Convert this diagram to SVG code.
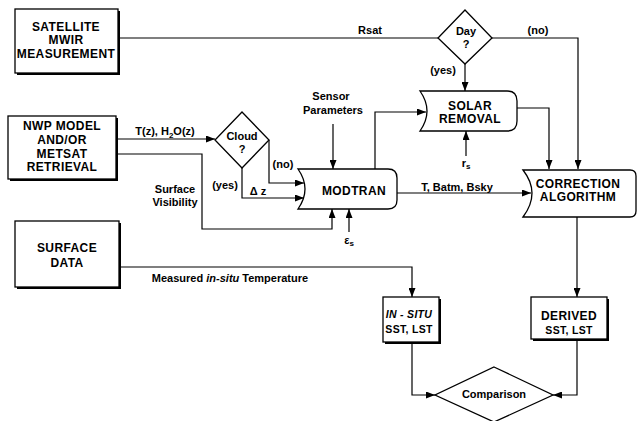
<svg xmlns="http://www.w3.org/2000/svg" width="637" height="421" viewBox="0 0 637 421">
<style>
.bg{fill:#fff}
.box{fill:#fff;stroke:#000;stroke-width:1.3}
.sh{fill:#000}
.c{fill:none;stroke:#000;stroke-width:1.2}
text{font-family:"Liberation Sans",Arial,Helvetica,sans-serif;font-weight:bold;fill:#000}
.t{font-size:12px;text-anchor:middle;letter-spacing:0.4px}
.l{font-size:11px;text-anchor:middle}
.s{font-size:10.5px;text-anchor:middle;letter-spacing:0.3px}
</style>
<defs>
<marker id="ah" markerWidth="9" markerHeight="7" refX="9" refY="3.5" orient="auto" markerUnits="userSpaceOnUse">
<path d="M0,0 L9,3.5 L0,7 Z" fill="#000"/>
</marker>
</defs>
<rect class="bg" x="0" y="0" width="637" height="421"/>

<g id="connectors">
<path class="c" d="M118,38 H438"/>
<path class="c" d="M492,38 H578 V169" marker-end="url(#ah)"/>
<path class="c" d="M465,64 V91" marker-end="url(#ah)"/>
<path class="c" d="M333,124 V169" marker-end="url(#ah)"/>
<path class="c" d="M375,169 V112 H426" marker-end="url(#ah)"/>
<path class="c" d="M517,108 H549 V169" marker-end="url(#ah)"/>
<path class="c" d="M466,156 V131" marker-end="url(#ah)"/>
<path class="c" d="M117,139 H215" marker-end="url(#ah)"/>
<path class="c" d="M269,140 V183 H304" marker-end="url(#ah)"/>
<path class="c" d="M242,168 V198 H304" marker-end="url(#ah)"/>
<path class="c" d="M117,154 H202 V229 H332 V209" marker-end="url(#ah)"/>
<path class="c" d="M349,232 V209" marker-end="url(#ah)"/>
<path class="c" d="M397,193 H531" marker-end="url(#ah)"/>
<path class="c" d="M577,217 V297" marker-end="url(#ah)"/>
<path class="c" d="M119,267 H412 V297" marker-end="url(#ah)"/>
<path class="c" d="M412,342 V395 H435" marker-end="url(#ah)"/>
<path class="c" d="M577,339 V395 H553" marker-end="url(#ah)"/>
</g>

<g id="labels">
<text class="l" x="370" y="34">Rsat</text>
<text class="l" x="538" y="34">(no)</text>
<text class="l" x="443" y="74">(yes)</text>
<text class="l" x="331" y="100">Sensor</text>
<text class="l" x="333" y="114">Parameters</text>
<text class="l" x="165" y="135">T(z), H<tspan font-size="8" dy="3">2</tspan><tspan dy="-3">O(z)</tspan></text>
<text class="l" x="283" y="168">(no)</text>
<text class="l" x="225" y="189">(yes)</text>
<text class="l" x="258" y="195">Δ z</text>
<text class="l" x="175" y="193">Surface</text>
<text class="l" x="175" y="206">Visibility</text>
<text class="l" x="466" y="167">r<tspan font-size="8" dy="2">s</tspan></text>
<text class="l" x="349" y="244">ε<tspan font-size="8" dy="2">s</tspan></text>
<text class="l" x="457" y="191">T, Batm, Bsky</text>
<text class="l" x="230" y="282">Measured <tspan font-style="italic">in-situ</tspan> Temperature</text>
</g>

<g id="satellite">
<rect class="sh" x="17" y="11" width="103" height="64"/>
<rect class="box" x="15" y="9" width="103" height="64"/>
<text class="t" x="66" y="31">SATELLITE</text>
<text class="t" x="66" y="44">MWIR</text>
<text class="t" x="66" y="58">MEASUREMENT</text>
</g>

<g id="nwp">
<rect class="sh" x="10" y="118" width="108" height="63"/>
<rect class="box" x="8" y="116" width="108" height="63"/>
<text class="t" x="62" y="130">NWP MODEL</text>
<text class="t" x="62" y="144">AND/OR</text>
<text class="t" x="62" y="158">METSAT</text>
<text class="t" x="62" y="171">RETRIEVAL</text>
</g>

<g id="surface">
<rect class="sh" x="17" y="223" width="104" height="66"/>
<rect class="box" x="15" y="221" width="104" height="66"/>
<text class="t" x="67" y="252">SURFACE</text>
<text class="t" x="67" y="267">DATA</text>
</g>

<g id="day">
<path class="box" d="M465,10 L492,38 L465,64 L438,38 Z"/>
<text class="l" x="466" y="35">Day</text>
<text class="l" x="466" y="48">?</text>
</g>

<g id="cloud">
<path class="box" d="M242,112 L269,140 L242,168 L215,140 Z"/>
<text class="l" x="242" y="140">Cloud</text>
<text class="l" x="242" y="153">?</text>
</g>

<g id="solar">
<path class="box" d="M420,91 L507,91 Q517,91 517,101 L517,121 Q517,131 507,131 L420,131 Q434,111 420,91 Z"/>
<text class="t" x="470" y="110">SOLAR</text>
<text class="t" x="470" y="123">REMOVAL</text>
</g>

<g id="modtran">
<path class="box" d="M298,169 L388,169 Q397,169 397,178 L397,200 Q397,209 388,209 L298,209 Q312,189 298,169 Z"/>
<text class="t" x="354" y="195">MODTRAN</text>
</g>

<g id="correction">
<path class="box" d="M523,170 L630,170 Q636,170 636,176 L636,211 Q636,217 630,217 L523,217 Q541,193 523,170 Z"/>
<text class="t" x="578" y="188">CORRECTION</text>
<text class="t" x="578" y="201">ALGORITHM</text>
</g>

<g id="insitu">
<rect class="sh" x="385" y="299" width="56" height="45"/>
<rect class="box" x="383" y="297" width="56" height="45"/>
<text class="s" x="409" y="318" font-style="italic">IN - SITU</text>
<text class="s" x="409" y="333">SST, LST</text>
</g>

<g id="derived">
<rect class="sh" x="533" y="299" width="76" height="42"/>
<rect class="box" x="531" y="297" width="76" height="42"/>
<text class="t" x="569" y="320">DERIVED</text>
<text class="s" x="569" y="334">SST, LST</text>
</g>

<g id="comparison">
<path class="box" d="M494,367 L553,395 L494,422 L435,395 Z"/>
<text class="l" x="494" y="398">Comparison</text>
</g>
</svg>
